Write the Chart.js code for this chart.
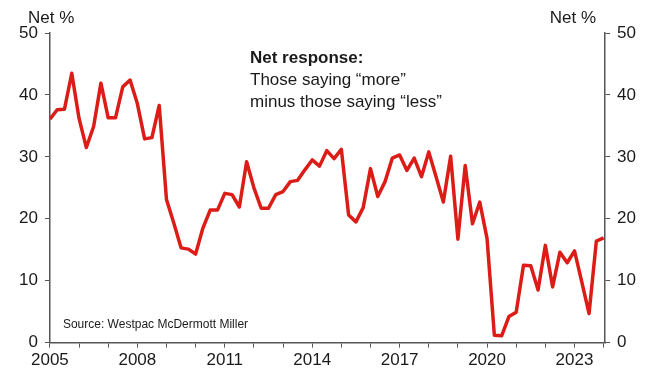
<!DOCTYPE html>
<html>
<head>
<meta charset="utf-8">
<script src="https://cdn.jsdelivr.net/npm/chart.js@4"></script>
<style>
  body { margin: 0; background: #fff; }
</style>
</head>
<body>
<canvas id="netChart" width="647" height="374"></canvas>
<script>
// quarterly, 2005Q1 .. 2024Q1
const startYear = 2005;
const netResponse = [
  36.1, 37.6, 37.7, 43.5, 36.2, 31.5, 34.9, 41.9,   // 2005-2006
  36.3, 36.3, 41.3, 42.4, 38.6, 32.9, 33.1, 38.3,   // 2007-2008
  23.1, 19.3, 15.3, 15.1, 14.3, 18.5, 21.4, 21.4,   // 2009-2010
  24.1, 23.9, 21.9, 29.2, 25.0, 21.7, 21.7, 23.9,   // 2011-2012
  24.4, 26.0, 26.2, 27.9, 29.5, 28.5, 31.0, 29.7,   // 2013-2014
  31.2, 20.6, 19.5, 21.8, 28.1, 23.6, 26.0, 29.8,   // 2015-2016
  30.3, 27.8, 29.8, 26.8, 30.8, 26.8, 22.7, 30.1,   // 2017-2018
  16.7, 28.6, 19.2, 22.7, 16.8, 1.2, 1.1, 4.2,      // 2019-2020
  4.9, 12.5, 12.4, 8.5, 15.7, 9.0, 14.6, 12.9,      // 2021-2022
  14.8, 9.8, 4.7, 16.4, 16.9                        // 2023-2024Q1
];
const yearTicks = [2005, 2006, 2007, 2008, 2009, 2010, 2011, 2012, 2013, 2014,
  2015, 2016, 2017, 2018, 2019, 2020, 2021, 2022, 2023, 2024];
const labelledYears = [2005, 2008, 2011, 2014, 2017, 2020, 2023];
const yTicks = [0, 10, 20, 30, 40, 50];

const axisColor = '#555555';
const textColor = '#1a1a1a';
const fontFamily = '"Liberation Sans", Arial, sans-serif';

const points = netResponse.map((v, i) => ({ x: startYear + i / 4, y: v }));

// extra texts: axis units, annotation and source
const textPlugin = {
  id: 'chartTexts',
  afterDraw(chart) {
    const ctx = chart.ctx;
    const area = chart.chartArea;
    ctx.save();
    ctx.fillStyle = textColor;
    ctx.textBaseline = 'alphabetic';
    ctx.font = '17px ' + fontFamily;
    ctx.textAlign = 'left';
    ctx.fillText('Net %', 28, 23);
    ctx.textAlign = 'right';
    ctx.fillText('Net %', 596, 23);
    ctx.textAlign = 'left';
    ctx.font = 'bold 17px ' + fontFamily;
    ctx.fillText('Net response:', 250, 63);
    ctx.font = '17px ' + fontFamily;
    ctx.fillText('Those saying \u201cmore\u201d', 250, 85);
    ctx.fillText('minus those saying \u201cless\u201d', 250, 107);
    ctx.font = '12px ' + fontFamily;
    ctx.fillText('Source: Westpac McDermott Miller', area.left + 13, 328);
    ctx.restore();
  }
};

function yAxis(position) {
  return {
    type: 'linear',
    position: position,
    min: 0,
    max: 50,
    afterBuildTicks: (scale) => { scale.ticks = yTicks.map(v => ({ value: v })); },
    grid: { drawOnChartArea: false, drawTicks: true, tickLength: 5, color: axisColor, lineWidth: 1 },
    border: { display: true, color: axisColor, width: 1.5 },
    ticks: { color: textColor, padding: 7, font: { size: 17, family: fontFamily } }
  };
}

new Chart(document.getElementById('netChart'), {
  type: 'line',
  data: {
    datasets: [{
      label: 'Net response',
      data: points,
      borderColor: '#dc1c17',
      borderWidth: 3.5,
      borderJoinStyle: 'round',
      pointRadius: 0,
      tension: 0,
      fill: false
    }]
  },
  options: {
    responsive: false,
    animation: false,
    devicePixelRatio: 1,
    layout: { padding: { top: 33, left: 12, right: 4, bottom: 0 } },
    plugins: { legend: { display: false }, tooltip: { enabled: false } },
    scales: {
      x: {
        type: 'linear',
        min: 2005,
        max: 2024.05,
        afterBuildTicks: (scale) => { scale.ticks = yearTicks.map(v => ({ value: v })); },
        grid: { drawOnChartArea: false, drawTicks: true, tickLength: 5, color: axisColor },
        border: { display: true, color: axisColor, width: 1.5 },
        ticks: {
          autoSkip: false,
          maxRotation: 0,
          color: textColor,
          padding: 3,
          font: { size: 17, family: fontFamily },
          callback: (v) => labelledYears.includes(v) ? String(v) : ''
        }
      },
      y: yAxis('left'),
      y2: yAxis('right')
    }
  },
  plugins: [textPlugin]
});
</script>
</body>
</html>
